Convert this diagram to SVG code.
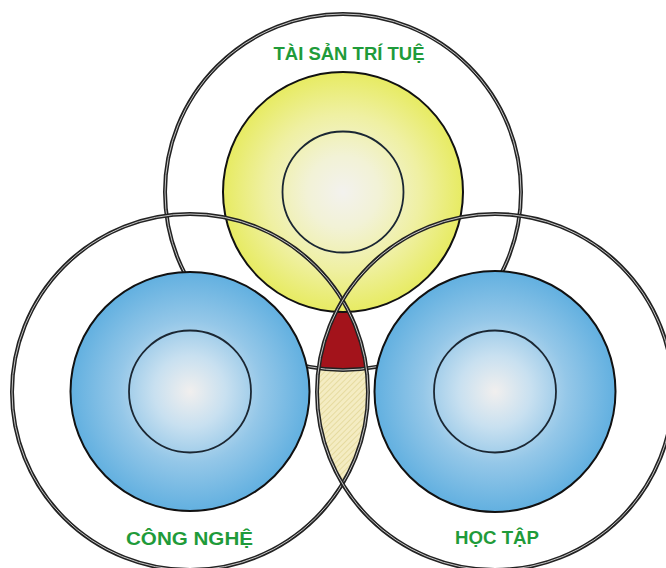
<svg xmlns="http://www.w3.org/2000/svg" width="666" height="568" viewBox="0 0 666 568">
  <style>
    .outer { fill: none; stroke: #222222; stroke-width: 4; }
    .outer-in { fill: none; stroke: #c4c4c4; stroke-width: 1; }
    .disk { stroke: #111; stroke-width: 2; }
    .ring { fill: none; stroke: #1b2733; stroke-width: 1.8; }
    .label { font-family: "Liberation Sans", "Noto Sans", Arial, sans-serif; font-weight: bold; font-size: 18.5px; fill: #1f9b3a; text-anchor: middle; }
  </style>
  <defs>
    <radialGradient id="gYellow" cx="0.5" cy="0.5" r="0.5">
      <stop offset="0" stop-color="#f3f2ee"/>
      <stop offset="0.3" stop-color="#f2f2d6"/>
      <stop offset="0.65" stop-color="#eff0a2"/>
      <stop offset="1" stop-color="#e7eb62"/>
    </radialGradient>
    <radialGradient id="gBlue" cx="0.5" cy="0.5" r="0.5">
      <stop offset="0" stop-color="#f1efee"/>
      <stop offset="0.3" stop-color="#c8e0f0"/>
      <stop offset="0.6" stop-color="#94c7e8"/>
      <stop offset="1" stop-color="#62b0e0"/>
    </radialGradient>
    <pattern id="hatch" patternUnits="userSpaceOnUse" width="4" height="4" patternTransform="rotate(45)">
      <rect width="4" height="4" fill="#f4ecc2"/>
      <line x1="0" y1="0" x2="0" y2="4" stroke="#ddd08a" stroke-width="1.2"/>
    </pattern>
    <clipPath id="cLeft"><circle cx="190" cy="392" r="178"/></clipPath>
    <clipPath id="cRight"><circle cx="495" cy="392" r="178"/></clipPath>
  </defs>

  <rect width="666" height="568" fill="#ffffff"/>

  <g id="intersection" clip-path="url(#cLeft)">
    <g clip-path="url(#cRight)">
      <rect x="280" y="280" width="130" height="220" fill="url(#hatch)"/>
      <circle cx="343" cy="192" r="178" fill="#a3131b"/>
    </g>
  </g>

  <g id="node-tai-san-tri-tue">
    <circle class="outer" cx="343" cy="192" r="178"/>
    <circle class="outer-in" cx="343" cy="192" r="178"/>
    <circle class="disk" cx="343" cy="192" r="120" fill="url(#gYellow)"/>
    <circle class="ring" cx="343" cy="192" r="60.5"/>
    <text class="label" x="349" y="60" textLength="151" lengthAdjust="spacingAndGlyphs">TÀI SẢN TRÍ TUỆ</text>
  </g>

  <g id="node-cong-nghe">
    <circle class="outer" cx="190" cy="392" r="178"/>
    <circle class="outer-in" cx="190" cy="392" r="178"/>
    <circle class="disk" cx="190" cy="391.5" r="119.5" fill="url(#gBlue)"/>
    <circle class="ring" cx="190" cy="391.5" r="61"/>
    <text class="label" x="189.5" y="545" textLength="127" lengthAdjust="spacingAndGlyphs">CÔNG NGHỆ</text>
  </g>

  <g id="node-hoc-tap">
    <circle class="outer" cx="495" cy="392" r="178"/>
    <circle class="outer-in" cx="495" cy="392" r="178"/>
    <circle class="disk" cx="495" cy="391.5" r="120.5" fill="url(#gBlue)"/>
    <circle class="ring" cx="495" cy="391.5" r="61"/>
    <text class="label" x="497" y="544" textLength="84" lengthAdjust="spacingAndGlyphs">HỌC TẬP</text>
  </g>

  <g id="connectors"/>
</svg>
